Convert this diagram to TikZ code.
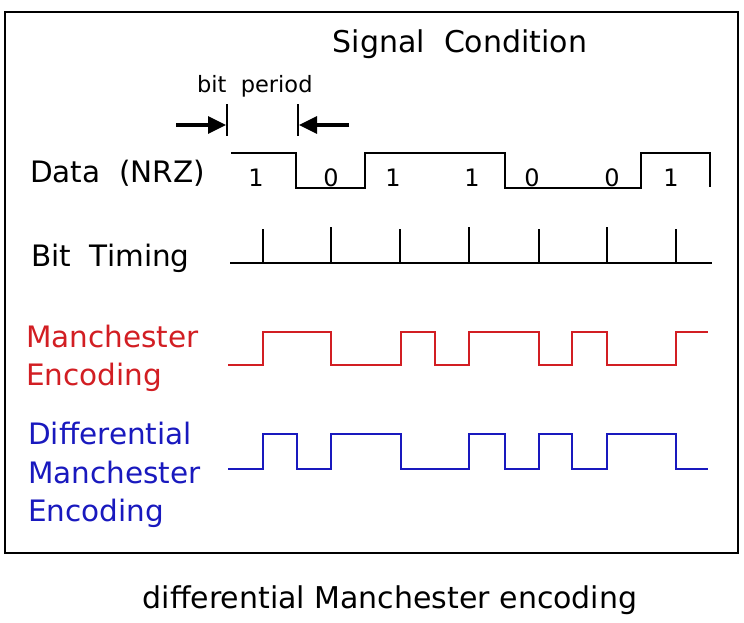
\documentclass[tikz,border=0pt]{standalone}
\usepackage{fontspec}
\setmainfont{DejaVu Sans}
\usetikzlibrary{arrows.meta}
\definecolor{mred}{RGB}{210,30,35}
\definecolor{mblue}{RGB}{25,25,190}
\begin{document}
\begin{tikzpicture}[x=1pt,y=-1pt,
  wave/.style={line width=2.2pt, line join=miter},
  lbl/.style={anchor=base west, inner sep=0pt, font=\fontsize{29.5}{34}\selectfont},
  digit/.style={anchor=base, inner sep=0pt, font=\fontsize{24}{28}\selectfont},
  dimarrow/.style={line width=3.2pt, -{Triangle[length=18pt,width=17pt]}},
  dimbar/.style={line width=1.8pt}]
\useasboundingbox (0,0) rectangle (744,622);
\draw[line width=2pt] (5,12) rectangle (738,553);

% title
\node[anchor=base, inner sep=0pt, font=\fontsize{30}{34}\selectfont] (title) at (460,52) {Signal\ \ Condition};
\node[anchor=base west, inner sep=0pt, font=\fontsize{22.5}{26}\selectfont] (bp) at (197,92) {bit\ \ period};

% bit period markers
\coordinate (b1t) at (227,104); \coordinate (b1b) at (227,136);
\coordinate (b2t) at (298,104); \coordinate (b2b) at (298,136);
\coordinate (a1s) at (176,125); \coordinate (a1e) at (226,125);
\coordinate (a2s) at (349,125); \coordinate (a2e) at (299,125);
\draw[dimbar] (b1t) -- (b1b);
\draw[dimbar] (b2t) -- (b2b);
\draw[dimarrow] (a1s) -- (a1e);
\draw[dimarrow] (a2s) -- (a2e);

% labels
\node[lbl] (data) at (30,182) {Data\ \ (NRZ)};
\node[lbl] (timing) at (31,266) {Bit\ \ Timing};
\node[lbl, text=mred] (man1) at (26,347) {Manchester};
\node[lbl, text=mred] (man2) at (26,385) {Encoding};
\node[lbl, text=mblue] (dif1) at (28,444) {Differential};
\node[lbl, text=mblue] (dif2) at (28,483) {Manchester};
\node[lbl, text=mblue] (dif3) at (28,521) {Encoding};

% NRZ data
\draw[wave] (231,153) -- (296,153) -- (296,188) -- (365,188) -- (365,153) -- (505,153) -- (505,188) -- (641,188) -- (641,153) -- (710,153) -- (710,187);
\node[digit] (d1) at (256,186) {1};
\node[digit] (d2) at (331,186) {0};
\node[digit] (d3) at (393,186) {1};
\node[digit] (d4) at (472,186) {1};
\node[digit] (d5) at (532,186) {0};
\node[digit] (d6) at (612,186) {0};
\node[digit] (d7) at (671,186) {1};

% bit timing
\draw[wave] (230,263) -- (712,263);
\foreach \x/\t in {263/229,331/227,400/229,469/227,539/229,607/227,676/229}
  \draw[wave] (\x,263) -- (\x,\t);

% Manchester
\draw[wave, mred] (228,365) -- (263,365) -- (263,332) -- (331,332) -- (331,365) -- (401,365) -- (401,332) -- (435,332) -- (435,365) -- (469,365) -- (469,332) -- (539,332) -- (539,365) -- (572,365) -- (572,332) -- (607,332) -- (607,365) -- (676,365) -- (676,332) -- (708,332);

% Differential Manchester
\draw[wave, mblue] (228,469) -- (263,469) -- (263,434) -- (297,434) -- (297,469) -- (331,469) -- (331,434) -- (401,434) -- (401,469) -- (469,469) -- (469,434) -- (505,434) -- (505,469) -- (539,469) -- (539,434) -- (572,434) -- (572,469) -- (607,469) -- (607,434) -- (676,434) -- (676,469) -- (708,469);

% caption
\node[anchor=base, inner sep=0pt, font=\fontsize{30}{34}\selectfont] (cap) at (390,608) {differential Manchester encoding};
\end{tikzpicture}
\end{document}
